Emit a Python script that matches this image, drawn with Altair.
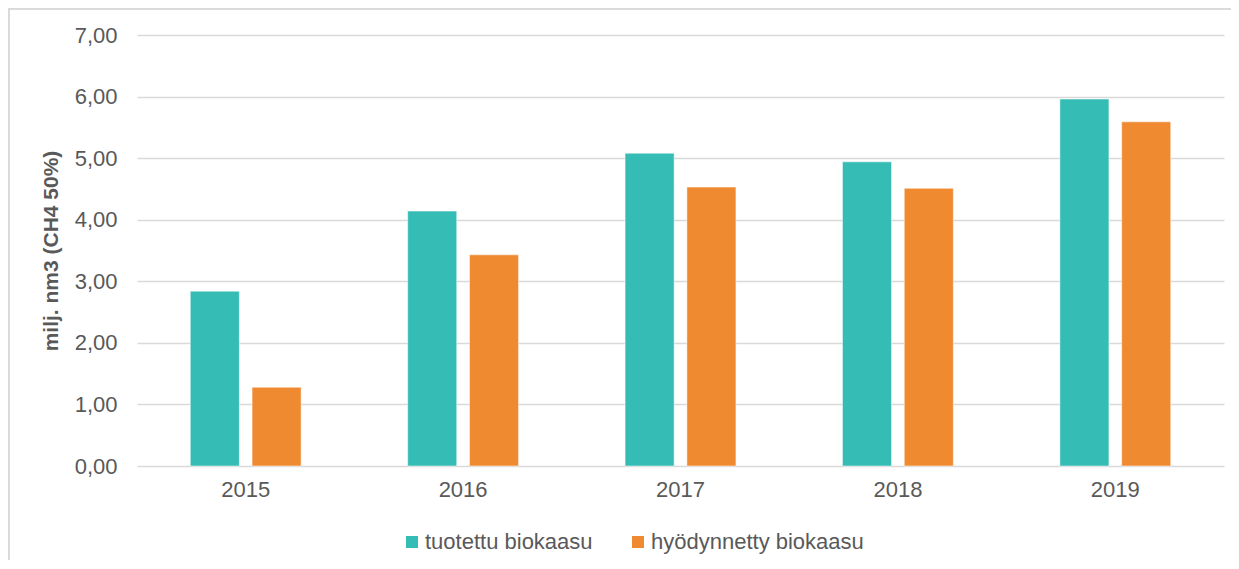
import altair as alt
import pandas as pd

years = ["2015", "2016", "2017", "2018", "2019"]
series = ["tuotettu biokaasu", "hyödynnetty biokaasu"]
tuotettu = [2.84, 4.14, 5.08, 4.94, 5.96]
hyodynnetty = [1.28, 3.43, 4.53, 4.51, 5.59]
colors = ["#35BCB5", "#F08A30"]
y_ticks = [0, 1, 2, 3, 4, 5, 6, 7]

rows = []
for i, yr in enumerate(years):
    rows.append({"vuosi": yr, "sarja": series[0], "arvo": tuotettu[i]})
    rows.append({"vuosi": yr, "sarja": series[1], "arvo": hyodynnetty[i]})
df = pd.DataFrame(rows)

FONT = "Liberation Sans"
GRAY = "#595959"

bars = alt.Chart(df).mark_bar(stroke="white", strokeWidth=0.5).encode(
    x=alt.X("vuosi:N", sort=years, title=None,
            scale=alt.Scale(paddingInner=0.49, paddingOuter=0.245),
            axis=alt.Axis(labelAngle=0, labelFontSize=22, labelColor=GRAY, labelFont=FONT,
                          ticks=False, domain=False, labelPadding=13, grid=False)),
    xOffset=alt.XOffset("sarja:N", sort=series,
                        scale=alt.Scale(paddingInner=0.206, paddingOuter=0)),
    y=alt.Y("arvo:Q", title="milj. nm3 (CH4 50%)",
            scale=alt.Scale(domain=[0, 7], nice=False),
            axis=alt.Axis(values=y_ticks,
                          labelExpr="replace(format(datum.value, '.2f'), '.', ',')",
                          labelFontSize=22, labelColor=GRAY, labelFont=FONT,
                          ticks=False, domain=False, labelPadding=20,
                          titleFontSize=21, titleFont=FONT, titleColor=GRAY,
                          titleFontWeight="bold", titlePadding=13,
                          grid=True, gridColor="#D9D9D9", gridWidth=1.5)),
    color=alt.Color("sarja:N", sort=series,
                    scale=alt.Scale(domain=series, range=colors),
                    legend=alt.Legend(title=None, orient="none", direction="horizontal",
                                      legendX=264, legendY=496,
                                      symbolType="square", symbolSize=144,
                                      symbolStrokeWidth=0, labelFontSize=22,
                                      labelFont=FONT, labelColor=GRAY, labelLimit=0,
                                      labelOffset=2, columnPadding=34,
                                      symbolOpacity=1)),
)

border_top = alt.Chart(df).mark_rule(color="#D9D9D9", strokeWidth=1.5, clip=False).encode(
    x=alt.value(-129), x2=alt.value(1120), y=alt.value(-26.5)
)
border_left = alt.Chart(df).mark_rule(color="#D9D9D9", strokeWidth=1.5, clip=False).encode(
    x=alt.value(-128.5), y=alt.value(-27), y2=alt.value(560)
)

chart = alt.layer(border_top, border_left, bars).properties(
    width=1087, height=431,
    background="white",
    autosize=alt.AutoSizeParams(type="none"),
    padding={"left": 129, "top": 27, "right": 7, "bottom": 94},
).configure_view(stroke="transparent", strokeWidth=0)

chart.save("out.html", embed_options={"renderer": "svg", "actions": False})
